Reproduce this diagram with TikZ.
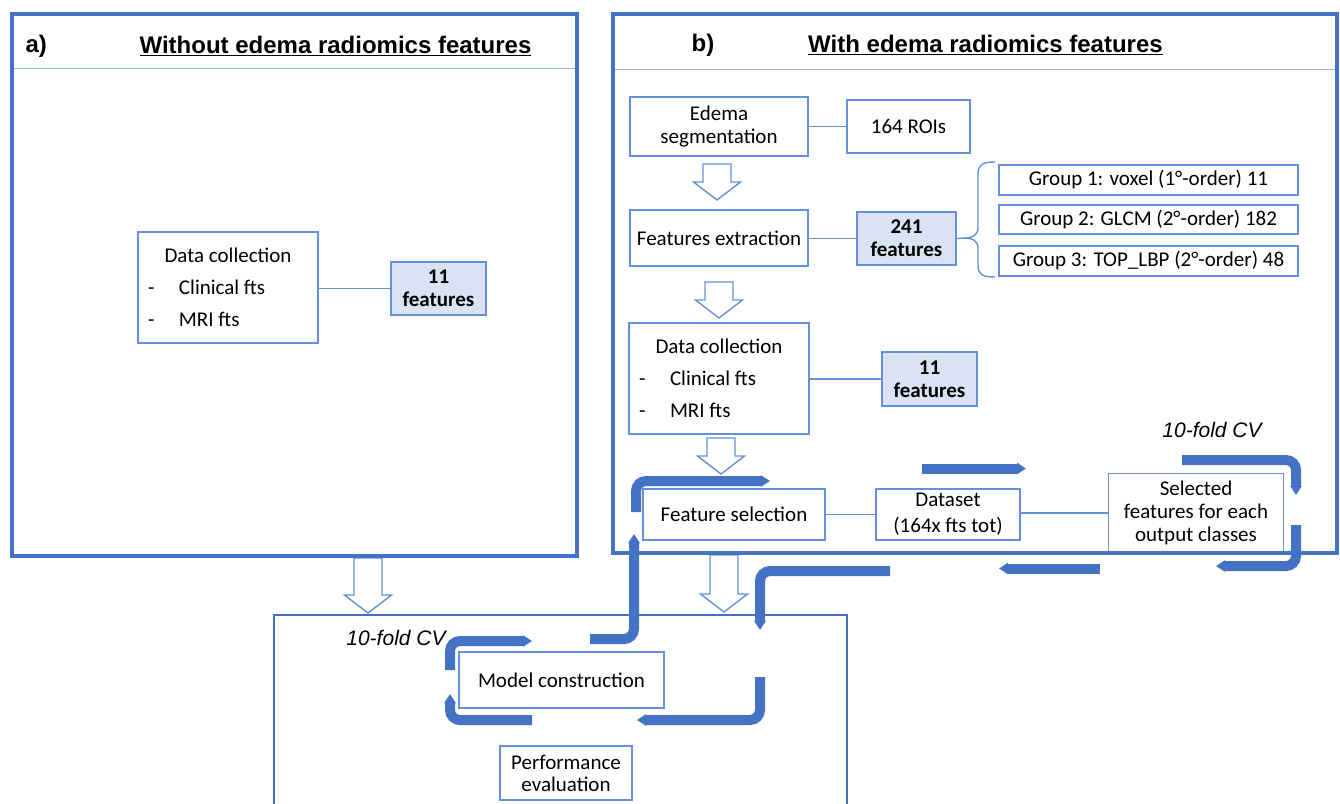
\documentclass[tikz,border=0pt]{standalone}
\usepackage{fontspec}
\setmainfont{Carlito}
\newfontfamily\arialfont{Liberation Sans}
\usetikzlibrary{arrows.meta}
\definecolor{panelblue}{RGB}{68,114,196}
\definecolor{boxblue}{RGB}{100,145,218}
\definecolor{featfill}{RGB}{218,227,243}
\definecolor{headline}{RGB}{150,178,225}

\newcommand\boxfont{\fontsize{21}{23}\selectfont}
\newcommand\ditem[1]{\makebox[160pt][l]{\makebox[31pt][l]{-}#1}}

\begin{document}
\begin{tikzpicture}[x=1pt, y=-1pt,
    box/.style={draw=boxblue,line width=1.4pt,fill=white,inner sep=0pt,align=center,font=\boxfont},
    numbox/.style={box,fill=featfill,font=\boxfont\bfseries},
    listbox/.style={box,font=\fontsize{21}{32}\selectfont,minimum width=180pt,minimum height=111pt},
    panel/.style={draw=panelblue,line width=4pt},
    hollow/.style={draw=boxblue,line width=1.4pt,fill=white},
    cyc/.style={draw=panelblue,line width=10pt,rounded corners=10pt,-{Triangle[length=9pt,width=11pt]}},
    title/.style={font=\arialfont\bfseries\fontsize{24}{28}\selectfont},
    cvlabel/.style={font=\arialfont\itshape\fontsize{21}{24}\selectfont}]
  \clip (0,0) rectangle (1340,803);
  \fill[white] (0,0) rectangle (1340,803);

  % a) without edema features
  \node[listbox] (dca) at (228,287.5) {Data collection\\\ditem{Clinical fts}\\\ditem{MRI fts}};
  \node[numbox,minimum width=95pt,minimum height=53pt] (fa) at (438.5,288.5) {11\\features};
  \draw[boxblue,line width=1.4pt] (fa.west) -- (fa.west -| dca.east);

  % b) with edema features
  \node[box,minimum width=178pt,minimum height=59pt] (seg) at (719,126.5) {Edema\\segmentation};
  \node[box,minimum width=123pt,minimum height=53pt] (roi) at (908.5,126.5) {164 ROIs};
  \node[box,minimum width=178pt,minimum height=56pt] (ext) at (719,238) {Features extraction};
  \node[numbox,minimum width=99pt,minimum height=53pt] (f241) at (906.5,238.5) {241\\features};
  \node[box,minimum width=299pt,minimum height=30pt] (g1) at (1148.5,180) {Group 1: voxel (1°-order) 11};
  \node[box,minimum width=299pt,minimum height=29pt] (g2) at (1148.5,219.5) {Group 2: GLCM (2°-order) 182};
  \node[box,minimum width=299pt,minimum height=30pt] (g3) at (1148.5,261) {Group 3: TOP\_LBP (2°-order) 48};
  \node[listbox] (dcb) at (719,378.5) {Data collection\\\ditem{Clinical fts}\\\ditem{MRI fts}};
  \node[numbox,minimum width=95pt,minimum height=54pt] (fb) at (929.5,379) {11\\features};
  \node[box,minimum width=182pt,minimum height=51pt] (sel) at (734,514.5) {Feature selection};
  \node[box,minimum width=144pt,minimum height=51pt,font=\fontsize{21}{26}\selectfont] (ds) at (948,514.5) {Dataset\\(164x fts tot)};
  \node[box,minimum width=175pt,minimum height=79pt] (sfc) at (1196,513) {Selected\\features for each\\output classes};
  \coordinate (btip) at (966,238);
  \foreach \a/\b in {seg/roi,ext/f241,dcb/fb,sel/ds,ds/sfc}
    \draw[boxblue,line width=1.4pt] (\a.east |- \b.west) -- (\b.west);
  \draw[boxblue,line width=1.4pt] (f241.east) -- (btip);
  % brace to the groups
  \draw[boxblue,line width=1.4pt] (995,162) .. controls (982,162) and (978,165) .. (978,174)
    -- (978,228) .. controls (978,235) and (972,238) .. (btip)
    .. controls (972,238) and (978,241) .. (978,248) -- (978,266)
    .. controls (978,274) and (982,277) .. (995,277);

  % bottom: model
  \node[box,minimum width=205pt,minimum height=56pt] (mod) at (561.5,680) {Model construction};
  \node[box,minimum width=132pt,minimum height=54pt,font=\fontsize{21}{22}\selectfont] (perf) at (566,773) {Performance\\evaluation};

  % hollow block arrows
  \foreach \x/\t/\e in {717/164/200,719/282/318,721/438/474,368/558/613,724/555/612}
    \draw[hollow] (\x-14,\t) -- (\x+14,\t) -- (\x+14,\e-18) -- (\x+23.5,\e-18) -- (\x,\e)
      -- (\x-23.5,\e-18) -- (\x-14,\e-18) -- cycle;

  % panels
  \draw[panel] (12,14) rectangle (577,556);
  \draw[headline,line width=1pt] (14,68) -- (575,68);
  \draw[panel] (613,14) rectangle (1337,553);
  \draw[headline,line width=1pt] (615,69) -- (1335,69);
  \draw[panel,line width=2.5pt] (274,810) -- (274,615) -- (847,615) -- (847,810);

  \node[title,anchor=west] (la) at (22,46) {a)};
  \node[title] (ta) at (335.5,46) {\underline{Without edema radiomics features}};
  \node[title] (lb) at (703,45) {b)};
  \node[title] (tb) at (985.5,45) {\underline{With edema radiomics features}};
  \node[cvlabel] (cvb) at (1212,430) {10-fold CV};
  \node[cvlabel] (cva) at (396,638) {10-fold CV};

  % cross-validation loop
  \draw[cyc] (636,512) -- (636,481) -- (770,481);
  \draw[cyc] (922,468.5) -- (1026,468.5);
  \draw[cyc] (1182,460) -- (1296,460) -- (1296,495);
  \draw[cyc] (1296,525) -- (1296,566) -- (1216,566);
  \draw[cyc] (1100,568.5) -- (999,568.5);
  \draw[cyc] (890,571) -- (760,571) -- (760,630);
  \draw[cyc] (590,639) -- (634,639) -- (634,534);
  \draw[cyc] (450,670) -- (450,641) -- (532,641);
  \draw[cyc] (760,677) -- (760,720) -- (637,720);
  \draw[cyc] (532,720) -- (450,720) -- (450,694);
\end{tikzpicture}
\end{document}
